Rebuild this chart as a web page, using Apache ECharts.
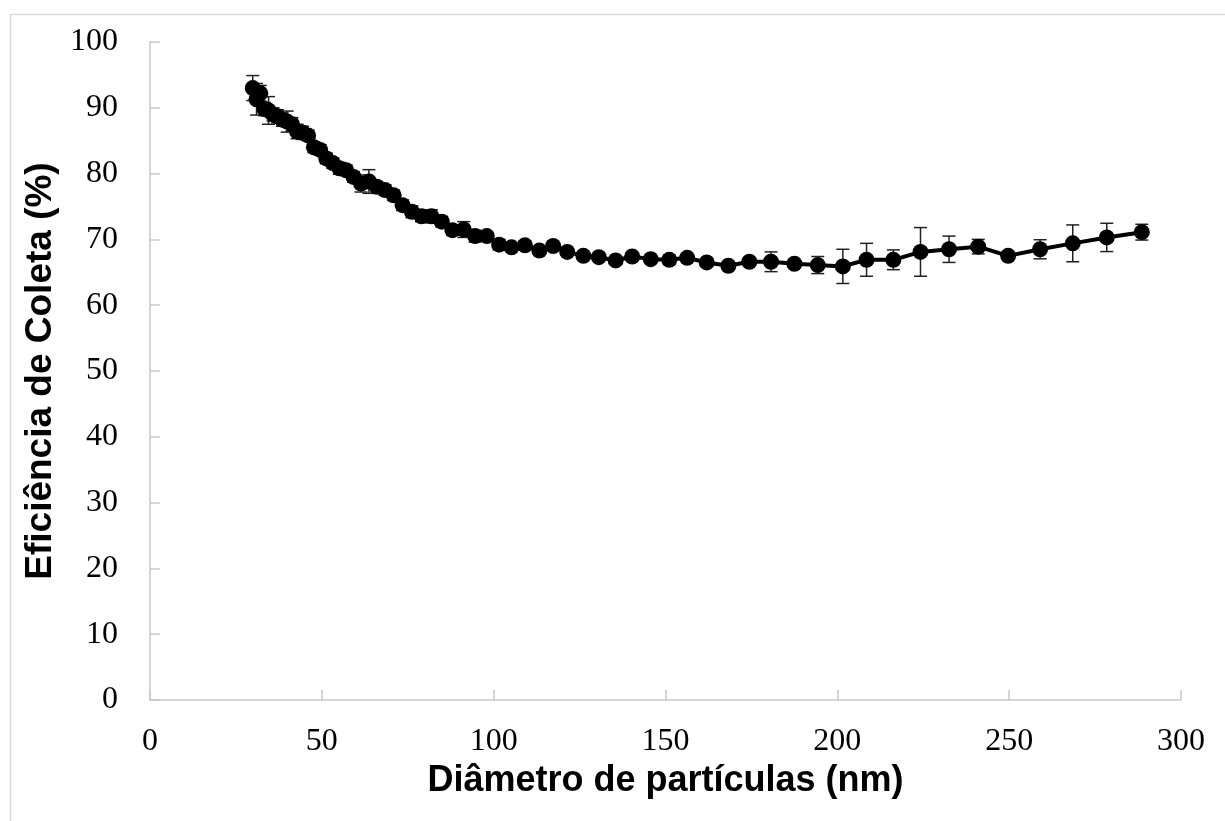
<!DOCTYPE html>
<html>
<head>
<meta charset="utf-8">
<script src="https://cdn.jsdelivr.net/npm/echarts@6/dist/echarts.min.js"></script>
<style>
  html, body { margin: 0; padding: 0; background: #fff; }
  #chart-container { width: 1225px; height: 821px; }
</style>
</head>
<body>
<div id="chart-container"></div>
<script>
var dom = document.getElementById('chart-container');
var myChart = echarts.init(dom, null, { renderer: 'canvas' });

// diametro (nm)
var diameters = [
  29.9, 31.0, 32.1, 33.3, 34.5, 35.8, 37.1, 38.5, 39.9, 41.3,
  42.8, 44.4, 46.0, 47.7, 49.5, 51.3, 53.2, 55.1, 57.1, 59.2,
  61.4, 63.7, 66.0, 68.4, 70.9, 73.5, 76.2, 79.0, 81.9, 84.9,
  88.0, 91.3, 94.6, 98.0, 101.6, 105.2, 109.1, 113.3, 117.3, 121.4,
  126.1, 130.6, 135.5, 140.3, 145.7, 151.1, 156.3, 162.0, 168.3, 174.4,
  180.7, 187.5, 194.3, 201.6, 208.5, 216.3, 224.2, 232.5, 241.0, 249.7,
  259.0, 268.5, 278.4, 288.6
];
// eficiencia de coleta (%)
var efficiency = [
  93.0, 91.3, 92.2, 89.8, 89.6, 89.0, 88.7, 88.2, 87.9, 87.5,
  86.4, 86.2, 85.8, 84.0, 83.6, 82.3, 81.6, 80.8, 80.5, 79.5,
  78.5, 78.8, 78.0, 77.5, 76.7, 75.2, 74.2, 73.5, 73.5, 72.7,
  71.4, 71.5, 70.5, 70.5, 69.2, 68.8, 69.1, 68.3, 69.0, 68.1,
  67.5, 67.3, 66.8, 67.4, 67.0, 66.9, 67.2, 66.5, 66.0, 66.6,
  66.6, 66.3, 66.1, 65.9, 66.9, 66.9, 68.1, 68.5, 68.9, 67.5,
  68.5, 69.4, 70.3, 71.1
];
// desvio (+/-)
var errors = [
  1.9, 2.4, 1.2, 1.0, 2.1, 1.0, 1.0, 1.0, 1.6, 1.0,
  1.1, 1.0, 0.8, 0.8, 0.8, 0.8, 0.8, 0.9, 0.8, 0.8,
  1.3, 1.8, 0.8, 0.8, 0.8, 0.8, 0.9, 0.8, 1.0, 0.8,
  0.8, 1.2, 0.9, 0.6, 0.8, 0.5, 0.7, 0.5, 0.5, 0.5,
  0.5, 0.5, 0.5, 0.5, 0.5, 0.7, 0.5, 0.5, 0.5, 0.5,
  1.5, 0.5, 1.3, 2.6, 2.5, 1.5, 3.7, 2.0, 1.1, 0.4,
  1.45, 2.8, 2.15, 1.2
];
var xTicks = { min: 0, max: 300, interval: 50 };
var yTicks = { min: 0, max: 100, interval: 10 };

var lineData = diameters.map(function (d, i) { return [d, efficiency[i]]; });
var errData = diameters.map(function (d, i) {
  return [d, efficiency[i] - errors[i], efficiency[i] + errors[i]];
});

var axisGray = '#c9c9c9';
var serif = '"Liberation Serif", "Times New Roman", serif';
var sans = '"Liberation Sans", Arial, sans-serif';

var option = {
  backgroundColor: '#fff',
  animation: false,
  graphic: [{
    type: 'rect',
    left: 8, top: 12,
    shape: { width: 1300, height: 900 },
    style: { fill: 'none', stroke: '#d9d9d9', lineWidth: 1.5 },
    silent: true
  }],
  grid: { left: 150, right: 44, top: 42, bottom: 121 },
  xAxis: {
    type: 'value',
    min: xTicks.min, max: xTicks.max, interval: xTicks.interval,
    name: 'Diâmetro de partículas (nm)',
    nameLocation: 'middle',
    nameGap: 58,
    nameTextStyle: { fontFamily: sans, fontWeight: 'bold', fontSize: 36, color: '#000' },
    axisLine: { lineStyle: { color: axisGray, width: 1.5 } },
    axisTick: { inside: true, length: 10, lineStyle: { color: axisGray, width: 1.5 } },
    axisLabel: { fontFamily: serif, fontSize: 32, color: '#000', margin: 26 },
    splitLine: { show: false }
  },
  yAxis: {
    type: 'value',
    min: yTicks.min, max: yTicks.max, interval: yTicks.interval,
    name: 'Eficiência de Coleta (%)',
    nameLocation: 'middle',
    nameGap: 87,
    nameRotate: 90,
    nameTextStyle: { fontFamily: sans, fontWeight: 'bold', fontSize: 37, color: '#000' },
    axisLine: { show: true, lineStyle: { color: axisGray, width: 1.5 } },
    axisTick: { show: true, inside: true, length: 10, lineStyle: { color: axisGray, width: 1.5 } },
    axisLabel: { fontFamily: serif, fontSize: 32, color: '#000', margin: 32 },
    splitLine: { show: false }
  },
  series: [
    {
      type: 'custom',
      z: 1,
      data: errData,
      renderItem: function (params, api) {
        var x = api.value(0);
        var lo = api.coord([x, api.value(1)]);
        var hi = api.coord([x, api.value(2)]);
        var hw = 6.5;
        var st = { stroke: '#222', lineWidth: 1.5 };
        return {
          type: 'group',
          children: [
            { type: 'line', shape: { x1: lo[0], y1: lo[1], x2: hi[0], y2: hi[1] }, style: st },
            { type: 'line', shape: { x1: lo[0] - hw, y1: lo[1], x2: lo[0] + hw, y2: lo[1] }, style: st },
            { type: 'line', shape: { x1: hi[0] - hw, y1: hi[1], x2: hi[0] + hw, y2: hi[1] }, style: st }
          ]
        };
      }
    },
    {
      type: 'line',
      z: 2,
      data: lineData,
      symbol: 'circle',
      symbolSize: 16,
      lineStyle: { color: '#000', width: 4 },
      itemStyle: { color: '#000' }
    }
  ]
};

myChart.setOption(option);
window.addEventListener('resize', myChart.resize);
</script>
</body>
</html>
